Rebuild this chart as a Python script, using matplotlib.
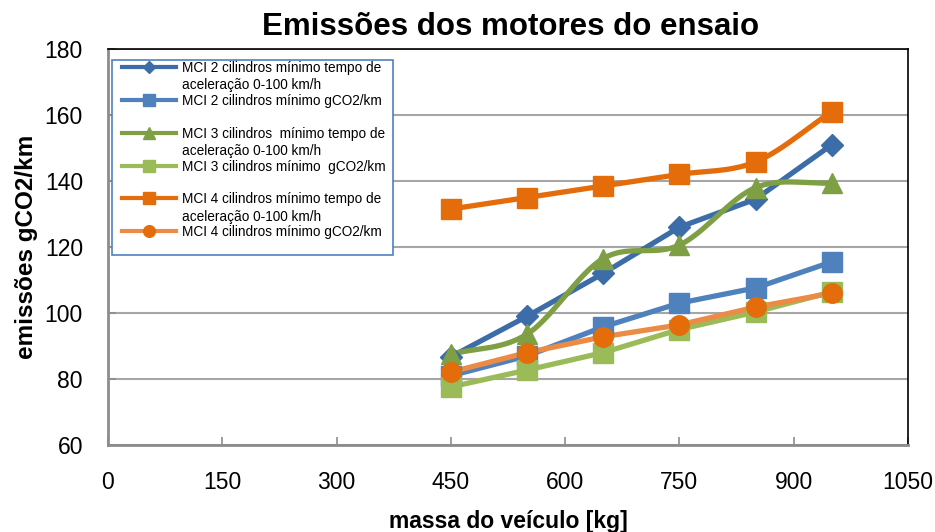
import matplotlib.pyplot as plt
import numpy as np
from matplotlib.lines import Line2D
from matplotlib.patches import Rectangle

plt.rcParams['font.family'] = ['Liberation Sans', 'DejaVu Sans']

massa = [450, 550, 650, 750, 850, 950]

mci2_accel = [86.7, 99.0, 112.0, 126.0, 134.5, 151.0]
mci2_gco2 = [81.0, 87.0, 95.8, 103.0, 107.6, 115.5]
mci3_accel = [87.5, 93.6, 116.5, 120.6, 138.0, 139.4]
mci3_gco2 = [77.6, 82.7, 88.0, 95.0, 100.3, 106.4]
mci4_accel = [131.5, 135.0, 138.5, 142.0, 145.8, 161.0]
mci4_gco2 = [82.1, 88.0, 92.8, 96.4, 101.8, 106.0]

labels = ["MCI 2 cilindros mínimo tempo de\naceleração 0-100 km/h",
          "MCI 2 cilindros mínimo gCO2/km",
          "MCI 3 cilindros  mínimo tempo de\naceleração 0-100 km/h",
          "MCI 3 cilindros mínimo  gCO2/km",
          "MCI 4 cilindros mínimo tempo de\naceleração 0-100 km/h",
          "MCI 4 cilindros mínimo gCO2/km"]

xticks = [0, 150, 300, 450, 600, 750, 900, 1050]
yticks = [60, 80, 100, 120, 140, 160, 180]


def smooth(x, y, n=30, tension=0.5):
    # cardinal spline through the points, like a spreadsheet "smoothed line"
    x = np.asarray(x, float)
    y = np.asarray(y, float)
    px = np.concatenate([[2 * x[0] - x[1]], x, [2 * x[-1] - x[-2]]])
    py = np.concatenate([[2 * y[0] - y[1]], y, [2 * y[-1] - y[-2]]])
    xs, ys = [], []
    t = np.linspace(0, 1, n)
    for i in range(1, len(px) - 2):
        m1x = tension * (px[i + 1] - px[i - 1])
        m1y = tension * (py[i + 1] - py[i - 1])
        m2x = tension * (px[i + 2] - px[i])
        m2y = tension * (py[i + 2] - py[i])
        h00 = 2 * t**3 - 3 * t**2 + 1
        h10 = t**3 - 2 * t**2 + t
        h01 = -2 * t**3 + 3 * t**2
        h11 = t**3 - t**2
        xs.append(h00 * px[i] + h10 * m1x + h01 * px[i + 1] + h11 * m2x)
        ys.append(h00 * py[i] + h10 * m1y + h01 * py[i + 1] + h11 * m2y)
    return np.concatenate(xs), np.concatenate(ys)


# (values, line colour, marker, marker colour, marker size, smoothed)
series = [
    (mci2_accel, '#3C6DA8', 'D', '#3C6DA8', 11, False),
    (mci2_gco2, '#4F81BD', 's', '#4F81BD', 14, False),
    (mci3_accel, '#7F9F45', '^', '#7F9F45', 15, True),
    (mci3_gco2, '#9BBB59', 's', '#9BBB59', 14, False),
    (mci4_accel, '#E46C0A', 's', '#E46C0A', 14, True),
    (mci4_gco2, '#EB8B45', 'o', '#E46C0A', 14, False),
]

fig = plt.figure(figsize=(9.35, 5.32), dpi=100)
ax = fig.add_axes([108 / 935, 1 - 445 / 532, 800 / 935, 396 / 532])

for vals, lc, mk, mc, ms, sm in series:
    if sm:
        sx, sy = smooth(massa, vals)
        ax.plot(sx, sy, c=lc, lw=3.8, solid_capstyle='round', zorder=3)
    else:
        ax.plot(massa, vals, c=lc, lw=3.8, solid_capstyle='round', zorder=3)
    ax.plot(massa, vals, ls='none', marker=mk, ms=ms, mfc=mc, mec=mc, zorder=4)

ax.set_xlim(0, 1050)
ax.set_ylim(60, 180)
ax.set_xticks(xticks)
ax.set_yticks(yticks)
ax.tick_params(axis='both', direction='in', length=6, width=1.2,
               color='#8C8C8C', labelsize=16.5)
ax.tick_params(axis='x', pad=19)
ax.tick_params(axis='y', pad=18)
ax.yaxis.grid(True, color='#A6A6A6', lw=1.5)
ax.set_axisbelow(True)
for side in ['left', 'bottom']:
    ax.spines[side].set_color('#8C8C8C')
    ax.spines[side].set_linewidth(2)
for side in ['top', 'right']:
    ax.spines[side].set_color('black')
    ax.spines[side].set_linewidth(1.2)

ax.set_xlabel('massa do veículo [kg]', fontsize=16.5, fontweight='bold', labelpad=11)
ax.set_ylabel('emissões gCO2/km', fontsize=17.5, fontweight='bold', labelpad=5)
fig.text(511 / 935, 1 - 27 / 532, 'Emissões dos motores do ensaio',
         fontsize=22.5, fontweight='bold', ha='center', va='center')

# legend box drawn by hand so each handle sits on the first text line
fig.patches.append(Rectangle((112 / 935, 1 - 255 / 532), 281 / 935, 195 / 532,
                             transform=fig.transFigure, fill=True, fc='white',
                             ec='#4F81BD', lw=1.2, zorder=5))
for i, (vals, lc, mk, mc, ms, sm) in enumerate(series):
    ypix = 67 + (i // 2) * 65.7 + (i % 2) * 33
    yf = 1 - ypix / 532
    fig.lines.append(Line2D([122 / 935, 176 / 935], [yf, yf], transform=fig.transFigure,
                            c=lc, lw=3, zorder=6))
    fig.lines.append(Line2D([149 / 935], [yf], transform=fig.transFigure, ls='none',
                            marker=mk, ms=ms * 0.6, mfc=mc, mec=mc, zorder=7))
    fig.text(182 / 935, yf + 6 / 532, labels[i], fontsize=9.8, ha='left', va='top',
             linespacing=1.3, zorder=7)

fig.savefig('out.png', dpi=100)
plt.close()
